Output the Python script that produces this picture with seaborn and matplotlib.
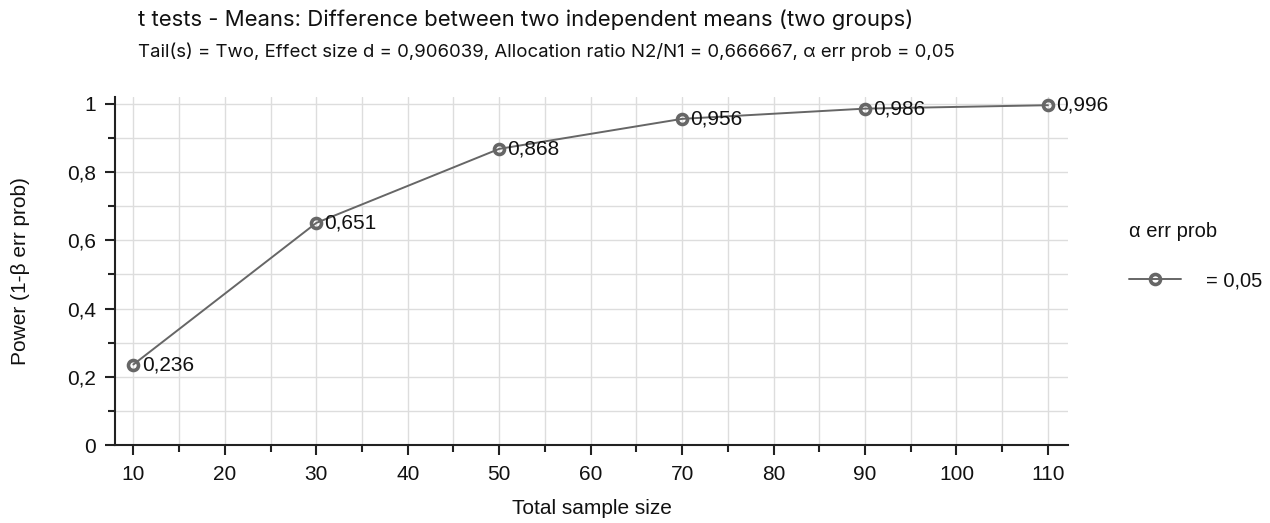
import matplotlib
matplotlib.use("Agg")
import matplotlib.pyplot as plt
import seaborn as sns
import pandas as pd
from matplotlib.ticker import MultipleLocator, FuncFormatter
from matplotlib.lines import Line2D

sample_size = [10, 30, 50, 70, 90, 110]
power = [0.236, 0.651, 0.868, 0.956, 0.986, 0.996]
point_labels = ["0,236", "0,651", "0,868", "0,956", "0,986", "0,996"]
title = "t tests - Means: Difference between two independent means (two groups)"
subtitle = "Tail(s) = Two, Effect size d = 0,906039, Allocation ratio N2/N1 = 0,666667, α err prob = 0,05"

sns.set_theme(style="white")
plt.rcParams['font.family'] = ['Liberation Sans', 'DejaVu Sans']

df = pd.DataFrame({"n": sample_size, "power": power})

fig = plt.figure(figsize=(12.7, 5.23), dpi=100)
ax = fig.add_axes([0.0906, 0.149, 0.841 - 0.0906, 0.8145 - 0.149])

col = "#666666"
txt = "#111111"
sns.lineplot(data=df, x="n", y="power", ax=ax, color=col, linewidth=1.4,
             marker="o", markersize=7.2, markerfacecolor="none",
             markeredgecolor=col, markeredgewidth=2.6)

for x, y, t in zip(sample_size, power, point_labels):
    ax.annotate(t, (x, y), xytext=(6, 0), textcoords="offset points",
                va="center", ha="left", fontsize=15, color=txt)

ax.set_xlim(8, 112.2)
ax.set_ylim(0, 1.02)
ax.set_xticks([10, 20, 30, 40, 50, 60, 70, 80, 90, 100, 110])
ax.xaxis.set_minor_locator(MultipleLocator(5))
ax.yaxis.set_major_locator(MultipleLocator(0.2))
ax.yaxis.set_minor_locator(MultipleLocator(0.1))
ax.yaxis.set_major_formatter(FuncFormatter(lambda v, p: ("%g" % round(v, 2)).replace(".", ",")))

ax.grid(True, which="both", color="#dddddd", linewidth=1)
ax.set_axisbelow(True)
for s in ["top", "right"]:
    ax.spines[s].set_visible(False)
for s in ["left", "bottom"]:
    ax.spines[s].set_color("#222222")
    ax.spines[s].set_linewidth(1.5)
ax.tick_params(which="major", direction="out", length=7.5, width=1.5, color="#222222",
               labelsize=15, labelcolor=txt, left=True, bottom=True)
ax.tick_params(which="minor", direction="out", length=5, width=1.5, color="#222222",
               left=True, bottom=True)
ax.tick_params(axis="x", which="major", pad=7)
ax.tick_params(axis="y", which="major", pad=6)

ax.set_xlabel("Total sample size", fontsize=15, color=txt, labelpad=11)
ax.set_ylabel("Power (1-β err prob)", fontsize=15, color=txt, labelpad=27)

fig.text(138 / 1270, 1 - 20 / 523, title, fontsize=15.9, va="center", ha="left",
         color=txt, family=["Inter", "DejaVu Sans"])
fig.text(138 / 1270, 1 - 52 / 523, subtitle, fontsize=13.4, va="center", ha="left",
         color=txt, family=["Inter", "DejaVu Sans"])

handle = Line2D([0], [0], color=col, linewidth=1.4, marker="o", markersize=7.2,
                markerfacecolor="none", markeredgecolor=col, markeredgewidth=2.6)
leg = fig.legend([handle], ["= 0,05"], title="α err prob", loc="center left",
                 bbox_to_anchor=(1129 / 1270, 1 - 256 / 523), frameon=False,
                 fontsize=14.5, title_fontsize=14.5, handlelength=2.6, handletextpad=1.2,
                 labelspacing=1.0, borderpad=0, borderaxespad=0)
leg._legend_box.align = "left"
leg._legend_box.sep = 22
plt.setp(leg.get_title(), color=txt)
for t in leg.get_texts():
    t.set_color(txt)

fig.savefig("out.png", dpi=100)
